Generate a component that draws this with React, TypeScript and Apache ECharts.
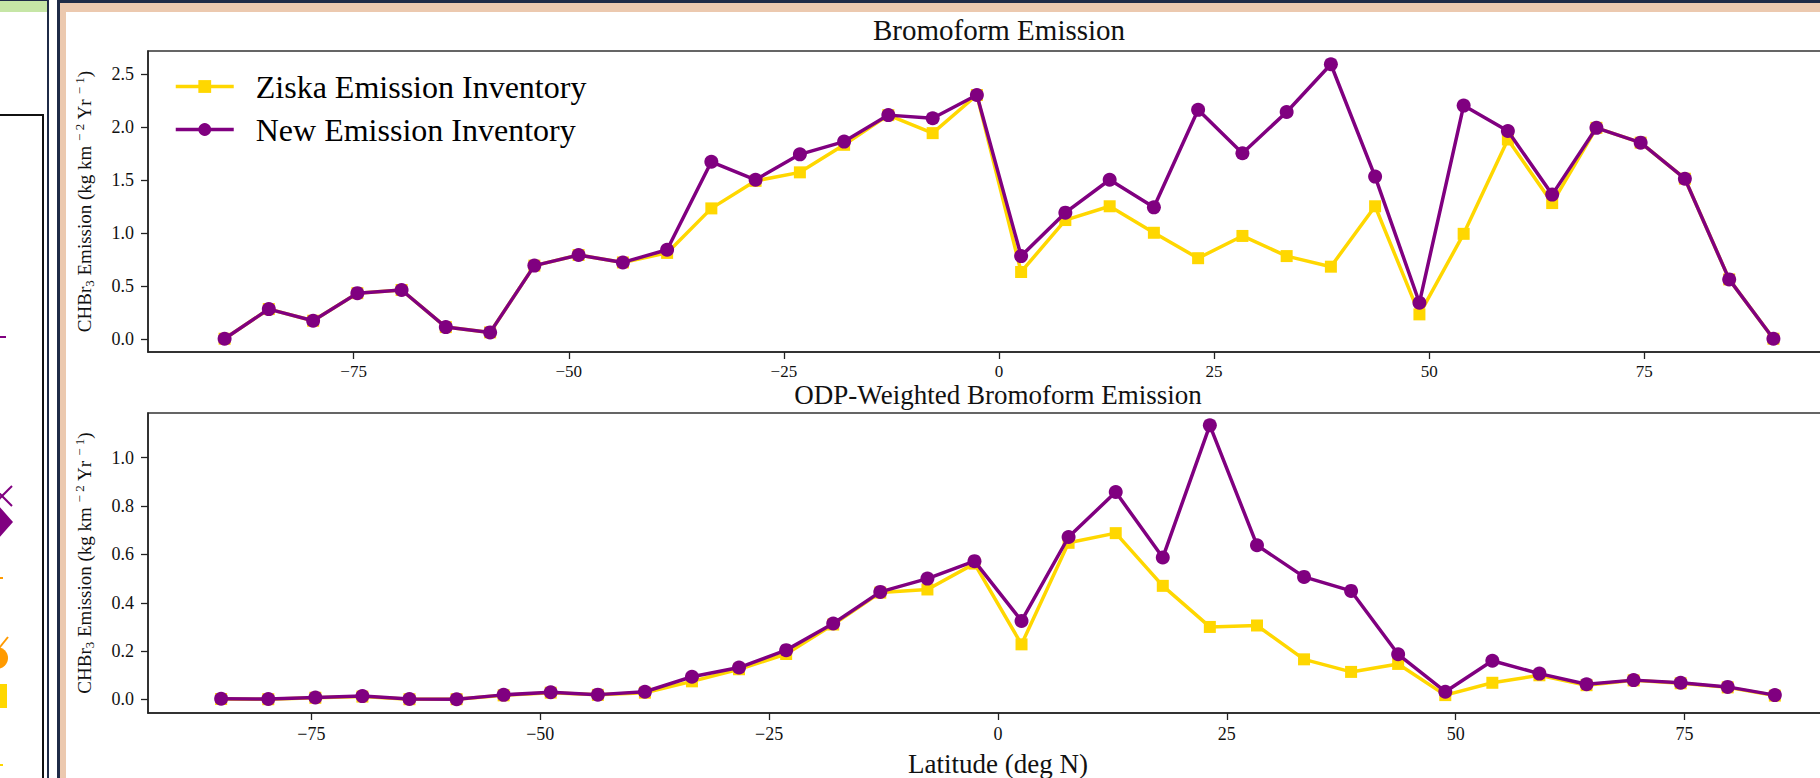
import React, { useEffect, useRef } from "react";
import * as echarts from "echarts";

const topLatitudes = [-90.0, -84.86, -79.71, -74.57, -69.43, -64.29, -59.14, -54.0, -48.86, -43.71, -38.57, -33.43, -28.29, -23.14, -18.0, -12.86, -7.71, -2.57, 2.57, 7.71, 12.86, 18.0, 23.14, 28.29, 33.43, 38.57, 43.71, 48.86, 54.0, 59.14, 64.29, 69.43, 74.57, 79.71, 84.86, 90.0];
const topZiska = [0.0, 0.28, 0.17, 0.43, 0.46, 0.11, 0.06, 0.69, 0.79, 0.72, 0.81, 1.23, 1.49, 1.57, 1.83, 2.11, 1.94, 2.3, 0.63, 1.12, 1.25, 1.0, 0.76, 0.97, 0.78, 0.68, 1.25, 0.23, 0.99, 1.88, 1.28, 1.99, 1.85, 1.51, 0.56, 0.0];
const topNew = [0.0, 0.28, 0.17, 0.43, 0.46, 0.11, 0.06, 0.69, 0.79, 0.72, 0.84, 1.67, 1.5, 1.74, 1.86, 2.11, 2.08, 2.3, 0.78, 1.19, 1.5, 1.24, 2.16, 1.75, 2.14, 2.59, 1.53, 0.34, 2.2, 1.96, 1.36, 1.99, 1.85, 1.51, 0.56, 0.0];

const bottomLatitudes = [-84.86, -79.71, -74.57, -69.43, -64.29, -59.14, -54.0, -48.86, -43.71, -38.57, -33.43, -28.29, -23.14, -18.0, -12.86, -7.71, -2.57, 2.57, 7.71, 12.86, 18.0, 23.14, 28.29, 33.43, 38.57, 43.71, 48.86, 54.0, 59.14, 64.29, 69.43, 74.57, 79.71, 84.86];
const bottomZiska = [0.002, 0.001, 0.007, 0.012, 0.001, 0.001, 0.017, 0.028, 0.019, 0.028, 0.075, 0.125, 0.188, 0.31, 0.442, 0.455, 0.562, 0.228, 0.648, 0.688, 0.47, 0.3, 0.306, 0.166, 0.114, 0.147, 0.018, 0.069, 0.1, 0.059, 0.079, 0.067, 0.05, 0.016];
const bottomNew = [0.003, 0.002, 0.008, 0.014, 0.002, 0.001, 0.019, 0.03, 0.02, 0.032, 0.094, 0.132, 0.204, 0.314, 0.445, 0.5, 0.572, 0.325, 0.672, 0.858, 0.587, 1.134, 0.638, 0.507, 0.449, 0.187, 0.032, 0.16, 0.107, 0.063, 0.08, 0.069, 0.052, 0.018];

const xTicks = [-75, -50, -25, 0, 25, 50, 75];
const topYTicks = [0, 0.5, 1.0, 1.5, 2.0, 2.5];
const bottomYTicks = [0, 0.2, 0.4, 0.6, 0.8, 1.0];

const seriesNames = ["Ziska Emission Inventory", "New Emission Inventory"];
const titles = ["Bromoform Emission", "ODP-Weighted Bromoform Emission"];
const xAxisName = "Latitude (deg N)";

const FONT = "'Liberation Serif', 'Times New Roman', Times, serif";
const YELLOW = "#FFD700";
const PURPLE = "#800080";
const AXIS_COLOR = "#222222";
const TEXT_COLOR = "#111111";

function pairs(xs: number[], ys: number[]) {
  return xs.map((x, i) => [x, ys[i]]);
}

const yName =
  "{a|CHBr}{s|3}{a| Emission (kg km }{p|− 2}{a| Yr }{p|− 1}{a|)}";

function makeXAxis(gridIndex: number, lim: number, labelSize: number, labelMargin: number, extra: any = {}) {
  return {
    gridIndex,
    type: "value",
    min: -lim,
    max: lim,
    axisLine: { show: true, onZero: false, lineStyle: { color: AXIS_COLOR, width: 1.5 } },
    axisTick: { show: true, customValues: xTicks, length: 7, lineStyle: { color: AXIS_COLOR, width: 1.3 } },
    axisLabel: {
      customValues: xTicks,
      formatter: (v: number) => String(v).replace("-", "\u2212"),
      fontSize: labelSize,
      fontFamily: FONT,
      color: TEXT_COLOR,
      margin: labelMargin,
    },
    splitLine: { show: false },
    ...extra,
  };
}

function makeYAxis(gridIndex: number, min: number, max: number, ticks: number[]) {
  return {
    gridIndex,
    type: "value",
    min,
    max,
    axisLine: { show: true, onZero: false, lineStyle: { color: AXIS_COLOR, width: 1.5 } },
    axisTick: { show: true, customValues: ticks, length: 7, lineStyle: { color: AXIS_COLOR, width: 1.3 } },
    axisLabel: {
      customValues: ticks,
      formatter: (v: number) => v.toFixed(1),
      fontSize: 18,
      fontFamily: FONT,
      color: TEXT_COLOR,
      margin: 14,
    },
    splitLine: { show: false },
    name: yName,
    nameLocation: "middle",
    nameGap: 52,
    nameTextStyle: {
      fontFamily: FONT,
      fontSize: 19,
      color: TEXT_COLOR,
      rich: {
        a: { fontFamily: FONT, fontSize: 19, lineHeight: 23, color: TEXT_COLOR },
        s: { fontFamily: FONT, fontSize: 13, lineHeight: 13, verticalAlign: "bottom", color: TEXT_COLOR },
        p: { fontFamily: FONT, fontSize: 13, lineHeight: 13, verticalAlign: "top", color: TEXT_COLOR },
      },
    },
  };
}

function lineSeries(name: string, xIdx: number, data: number[][], isNew: boolean) {
  const color = isNew ? PURPLE : YELLOW;
  return {
    name,
    type: "line",
    xAxisIndex: xIdx,
    yAxisIndex: xIdx,
    data,
    symbol: isNew ? "circle" : "rect",
    symbolSize: isNew ? 14 : 12,
    showSymbol: true,
    itemStyle: { color, borderWidth: 0 },
    lineStyle: { color, width: 3.5 },
    z: isNew ? 4 : 3,
    emphasis: { disabled: true },
  };
}

function Frame() {
  const navy = "#1f2b47";
  const peach = "#ecc9af";
  return (
    <svg
      width={1820}
      height={778}
      style={{ position: "absolute", left: 0, top: 0, pointerEvents: "none" }}
    >
      <rect x={0} y={0} width={57} height={778} fill="#ffffff" />
      <rect x={0} y={0} width={47} height={1} fill={navy} />
      <rect x={0} y={1} width={47} height={11} fill="#c6e6a6" />
      <rect x={0} y={114} width={44} height={2} fill="#111111" />
      <rect x={42} y={114} width={2} height={664} fill="#111111" />
      <rect x={47} y={0} width={2} height={778} fill={navy} />
      <rect x={57} y={0} width={3} height={778} fill={navy} />
      <rect x={57} y={0} width={1763} height={3} fill={navy} />
      <rect x={60} y={3} width={1760} height={9} fill={peach} />
      <rect x={60} y={3} width={6} height={775} fill={peach} />
      {/* partial markers of the neighbouring panel */}
      <line x1={0} y1={337} x2={6} y2={337} stroke={PURPLE} strokeWidth={2} />
      <line x1={-8} y1={486} x2={12} y2={506} stroke={PURPLE} strokeWidth={2} />
      <line x1={-8} y1={506} x2={12} y2={486} stroke={PURPLE} strokeWidth={2} />
      <polygon points="-17,522 -2,505 13,522 -2,539" fill={PURPLE} />
      <line x1={0} y1={578} x2={3} y2={578} stroke="#ff9a00" strokeWidth={2} />
      <line x1={-4} y1={652} x2={8} y2={637} stroke="#ff9a00" strokeWidth={2} />
      <circle cx={-3} cy={658} r={11} fill="#ff9a00" />
      <rect x={-10} y={684} width={17} height={24} fill={YELLOW} />
      <line x1={0} y1={765} x2={3} y2={765} stroke={YELLOW} strokeWidth={2} />
    </svg>
  );
}

export default function App() {
  const ref = useRef<HTMLDivElement>(null);

  useEffect(() => {
    if (!ref.current) return;
    const chart = echarts.init(ref.current, undefined, { renderer: "svg" });
    const option: any = {
      animation: false,
      backgroundColor: "#ffffff",
      textStyle: { fontFamily: FONT },
      grid: [
        { left: 148, top: 51, width: 1702, height: 301, show: true, borderColor: "#333333", borderWidth: 1.5, backgroundColor: "transparent", containLabel: false },
        { left: 148, top: 413, width: 1700, height: 300, show: true, borderColor: "#333333", borderWidth: 1.5, backgroundColor: "transparent", containLabel: false },
      ],
      xAxis: [
        makeXAxis(0, 98.9, 17, 11),
        makeXAxis(1, 92.85, 18, 12, {
          name: xAxisName,
          nameLocation: "middle",
          nameGap: 37,
          nameTextStyle: { fontFamily: FONT, fontSize: 27, color: TEXT_COLOR },
        }),
      ],
      yAxis: [
        makeYAxis(0, -0.125, 2.715, topYTicks),
        makeYAxis(1, -0.056, 1.185, bottomYTicks),
      ],
      legend: {
        show: true,
        orient: "vertical",
        left: 174,
        top: 69,
        padding: 0,
        itemWidth: 58,
        itemHeight: 16,
        itemGap: 8,
        selectedMode: false,
        data: seriesNames,
        lineStyle: { width: 3.5 },
        textStyle: { fontFamily: FONT, fontSize: 32, lineHeight: 35, color: "#000000", padding: [0, 0, 0, 17] },
      },
      graphic: [
        {
          type: "text",
          x: 999,
          y: 30,
          style: { text: titles[0], fontFamily: FONT, fontSize: 29, fill: TEXT_COLOR, align: "center", verticalAlign: "middle" },
        },
        {
          type: "text",
          x: 998,
          y: 395,
          style: { text: titles[1], fontFamily: FONT, fontSize: 27, fill: TEXT_COLOR, align: "center", verticalAlign: "middle" },
        },
      ],
      series: [
        lineSeries(seriesNames[0], 0, pairs(topLatitudes, topZiska), false),
        lineSeries(seriesNames[1], 0, pairs(topLatitudes, topNew), true),
        lineSeries(seriesNames[0], 1, pairs(bottomLatitudes, bottomZiska), false),
        lineSeries(seriesNames[1], 1, pairs(bottomLatitudes, bottomNew), true),
      ],
    };
    chart.setOption(option);
    return () => chart.dispose();
  }, []);

  return (
    <div
      style={{
        position: "fixed",
        left: 0,
        top: 0,
        width: 1820,
        height: 778,
        overflow: "hidden",
        background: "#ffffff",
      }}
    >
      <div ref={ref} style={{ position: "absolute", left: 0, top: 0, width: 1900, height: 778 }} />
      <Frame />
    </div>
  );
}
